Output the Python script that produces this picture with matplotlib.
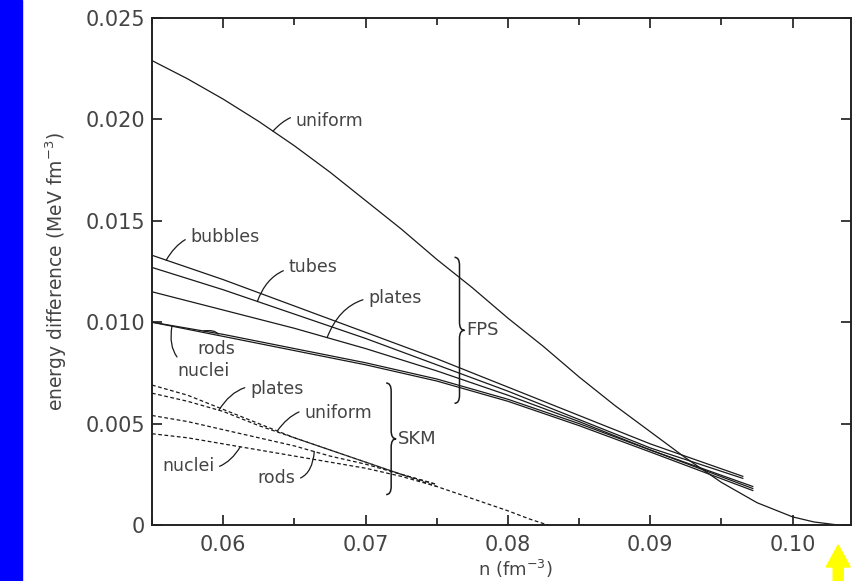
# energy difference of nuclear pasta phases vs uniform matter (FPS solid, SKM dashed)
import numpy as np
import matplotlib.pyplot as plt
from matplotlib.path import Path
from matplotlib.patches import PathPatch, FancyArrow

plt.rcParams['font.family'] = ['DejaVu Sans']

# FPS curves (solid)
fps_x = [0.055, 0.060, 0.065, 0.070, 0.075, 0.080, 0.085, 0.090, 0.0965]
fps_bubbles = [0.0133, 0.0121, 0.0108, 0.0095, 0.0082, 0.0068, 0.0054, 0.0040, 0.0024]
fps_tubes = [0.0127, 0.0116, 0.0104, 0.0092, 0.0079, 0.0066, 0.0052, 0.0038, 0.0023]
fps_x2 = [0.055, 0.060, 0.065, 0.070, 0.075, 0.080, 0.085, 0.090, 0.0972]
fps_plates = [0.0115, 0.0106, 0.0097, 0.0087, 0.0076, 0.0064, 0.0051, 0.0037, 0.0019]
fps_rods = [0.0100, 0.0094, 0.0087, 0.0080, 0.0072, 0.0062, 0.0050, 0.0037, 0.0018]
fps_nuclei = [0.0100, 0.0093, 0.0086, 0.0079, 0.0071, 0.0061, 0.0049, 0.0036, 0.0017]
fps_uni_x = [0.055, 0.0575, 0.060, 0.0625, 0.065, 0.0675, 0.070, 0.0725, 0.075, 0.0775,
             0.080, 0.0825, 0.085, 0.0875, 0.090, 0.0925, 0.095, 0.0975, 0.100, 0.1015, 0.1032]
fps_uniform = [0.0229, 0.0220, 0.0210, 0.0199, 0.0187, 0.0174, 0.0160, 0.0146, 0.0131, 0.0117,
               0.0102, 0.0088, 0.0073, 0.0059, 0.0046, 0.0033, 0.0021, 0.0011, 0.0004, 0.00015, 0.0]

# SKM curves (dashed)
skm_uni_x = [0.055, 0.0575, 0.060, 0.0625, 0.065, 0.0675, 0.070, 0.0725, 0.075, 0.0775,
             0.080, 0.0815, 0.0828]
skm_uniform = [0.0069, 0.0064, 0.0057, 0.0050, 0.0043, 0.0037, 0.0031, 0.0025, 0.0019, 0.0013,
               0.0007, 0.0003, 0.0]
skm_x = [0.055, 0.0575, 0.060, 0.0625, 0.065, 0.0675, 0.070, 0.0725, 0.0750]
skm_plates = [0.0065, 0.0061, 0.0056, 0.0049, 0.0043, 0.0037, 0.0031, 0.0025, 0.0020]
skm_rods = [0.0054, 0.0051, 0.0047, 0.0043, 0.0039, 0.0034, 0.0030, 0.0025, 0.0020]
skm_nuclei = [0.0045, 0.0043, 0.0040, 0.0037, 0.0034, 0.0031, 0.0028, 0.0024, 0.0019]

xticks = [0.06, 0.07, 0.08, 0.09, 0.10]
xticklabels = ['0.06', '0.07', '0.08', '0.09', '0.10']
yticks = [0, 0.005, 0.010, 0.015, 0.020, 0.025]
yticklabels = ['0', '0.005', '0.010', '0.015', '0.020', '0.025']

txt = '#444444'
ln = '#1a1a1a'

fig = plt.figure(figsize=(8.64, 5.81), dpi=100)
fig.patch.set_facecolor('white')
# blue strip on the left edge
fig.patches.append(plt.Rectangle((0, 0), 22 / 864, 1, transform=fig.transFigure,
                                 color='#0000ff', zorder=0))
ax = fig.add_axes([152 / 864, 1 - 525 / 581, 699 / 864, 507 / 581])

ax.plot(fps_uni_x, fps_uniform, color=ln, lw=0.9)
for ys, xs in [(fps_bubbles, fps_x), (fps_tubes, fps_x), (fps_plates, fps_x2),
               (fps_rods, fps_x2), (fps_nuclei, fps_x2)]:
    ax.plot(xs, ys, color=ln, lw=0.9)
dash = (0, (3, 2))
ax.plot(skm_uni_x, skm_uniform, color=ln, lw=0.9, linestyle=dash)
for ys in [skm_plates, skm_rods, skm_nuclei]:
    ax.plot(skm_x, ys, color=ln, lw=0.9, linestyle=dash)

ax.set_xlim(0.055, 0.1041)
ax.set_ylim(0, 0.025)
ax.set_xticks(xticks)
ax.set_xticklabels(xticklabels)
ax.set_xticks(np.arange(0.055, 0.104, 0.005), minor=True)
ax.set_yticks(yticks)
ax.set_yticklabels(yticklabels)
ax.tick_params(which='both', direction='in', top=True, right=True, color=ln, width=1.2)
ax.tick_params(which='major', length=7, labelsize=15, labelcolor=txt, pad=7)
ax.tick_params(which='minor', length=5)
ax.tick_params(axis='y', pad=5)
for s in ax.spines.values():
    s.set_linewidth(1.4)
    s.set_color('#222222')

ax.set_xlabel('n (fm$^{-3}$)', fontsize=13, color=txt)
ax.set_ylabel('energy difference (MeV fm$^{-3}$)', fontsize=13.5, color=txt, labelpad=12)
ax.xaxis.set_label_coords(0.52, -0.064)


def label(text, xt, yt, xs, ys, xp, rad):
    yp = np.interp(xp, xs, ys)
    ax.annotate(text, xy=(xp, yp), xytext=(xt, yt), fontsize=12.5, color=txt,
                ha='left', va='center',
                arrowprops=dict(arrowstyle='-', color=ln, lw=0.9,
                                connectionstyle='arc3,rad=%s' % rad,
                                shrinkA=2, shrinkB=0))


label('uniform', 0.0651, 0.0199, fps_uni_x, fps_uniform, 0.0635, 0.4)
label('bubbles', 0.0577, 0.0142, fps_x, fps_bubbles, 0.0560, 0.4)
label('tubes', 0.0646, 0.0127, fps_x, fps_tubes, 0.0624, 0.4)
label('plates', 0.0702, 0.0112, fps_x2, fps_plates, 0.0673, 0.4)
label('rods', 0.0582, 0.0087, fps_x2, fps_rods, 0.0586, 0.9)
label('nuclei', 0.0568, 0.0076, fps_x2, fps_nuclei, 0.0564, -0.5)
label('plates', 0.0619, 0.0067, skm_x, skm_plates, 0.0597, 0.4)
label('uniform', 0.0657, 0.0055, skm_uni_x, skm_uniform, 0.0638, 0.4)
label('nuclei', 0.0557, 0.0029, skm_x, skm_nuclei, 0.0612, 0.4)
label('rods', 0.0624, 0.0023, skm_x, skm_rods, 0.0664, 0.6)


def brace(x, y0, y1, name, w=0.00035):
    ym = (y0 + y1) / 2
    h = 0.0004
    verts = [(x - w, y1), (x, y1), (x, y1 - h),
             (x, ym + h), (x, ym), (x + w, ym),
             (x, ym), (x, ym - h),
             (x, y0 + h), (x, y0), (x - w, y0)]
    codes = [Path.MOVETO, Path.CURVE3, Path.CURVE3,
             Path.LINETO, Path.CURVE3, Path.CURVE3,
             Path.CURVE3, Path.CURVE3,
             Path.LINETO, Path.CURVE3, Path.CURVE3]
    ax.add_patch(PathPatch(Path(verts, codes), fill=False, lw=1.1, color=ln))
    ax.text(x + w + 0.0001, ym, name, fontsize=13, color=txt, ha='left', va='center')


brace(0.0766, 0.0060, 0.0132, 'FPS')
brace(0.0718, 0.0015, 0.0070, 'SKM')

# yellow arrow marking where the uniform FPS curve reaches zero
x_zero = fps_uni_x[-1]
xf = ax.transData.transform((x_zero, 0))[0] / 864
fig.patches.append(FancyArrow(xf, 0.0, 0, 36 / 581, width=10 / 864, head_width=24 / 864,
                              head_length=22 / 581, transform=fig.transFigure,
                              color='#ffff00', length_includes_head=True))

fig.savefig('out.png', dpi=100)
